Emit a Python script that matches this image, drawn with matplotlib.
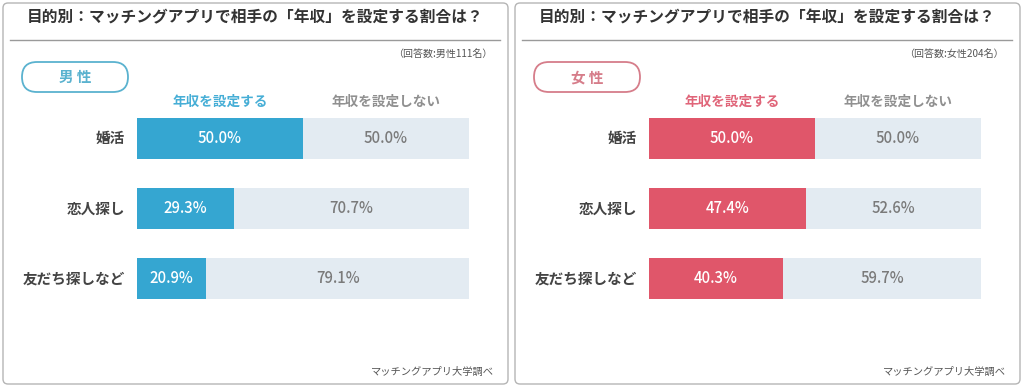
import matplotlib.pyplot as plt
from matplotlib.patches import FancyBboxPatch

plt.rcParams['font.family'] = ['Noto Sans CJK JP', 'DejaVu Sans']

# データ
titulo = "目的別：マッチングアプリで相手の「年収」を設定する割合は？"
categorias = ["婚活", "恋人探し", "友だち探しなど"]
encabezados = ["年収を設定する", "年収を設定しない"]
fuente = "マッチングアプリ大学調べ"

grupos = ["男 性", "女 性"]
notas = ["（回答数:男性111名）", "（回答数:女性204名）"]
si_hombres = [50.0, 29.3, 20.9]
no_hombres = [50.0, 70.7, 79.1]
si_mujeres = [50.0, 47.4, 40.3]
no_mujeres = [50.0, 52.6, 59.7]

colores = ["#35a6d1", "#e0566a"]
colores_pill = ["#5ab2cf", "#d67d8a"]
colores_enc = ["#46aed6", "#e06579"]
gris_barra = "#e3ebf2"

W, H = 1024, 387
fig = plt.figure(figsize=(W / 100, H / 100), dpi=100)
fig.patch.set_facecolor("white")

# capa de fondo en pixeles para marcos y textos
fondo = fig.add_axes([0, 0, 1, 1], zorder=0)
fondo.set_xlim(0, W)
fondo.set_ylim(H, 0)
fondo.axis("off")

paneles = [
    (0, si_hombres, no_hombres),
    (1, si_mujeres, no_mujeres),
]

for k, si, no in paneles:
    off = 512 * k
    # marco del panel
    fondo.add_patch(FancyBboxPatch((off + 3, 3), 505, 381,
                                   boxstyle="round,pad=0,rounding_size=5",
                                   facecolor="white", edgecolor="#b5b5b5",
                                   linewidth=1.0))
    fondo.text(off + 255, 17, titulo, ha="center", va="center",
               fontsize=11.3, fontweight="bold", color="#333333")
    fondo.plot([off + 10, off + 500], [40, 40], color="#9a9a9a", lw=1.0)
    fondo.text(off + 492, 54, notas[k], ha="right", va="center",
               fontsize=7.2, color="#555555")
    fondo.add_patch(FancyBboxPatch((off + 22, 62), 106, 30,
                                   boxstyle="round,pad=0,rounding_size=15",
                                   facecolor="white",
                                   edgecolor=colores_pill[k], linewidth=1.3))
    fondo.text(off + 75, 77, grupos[k], ha="center", va="center",
               fontsize=10.5, fontweight="bold", color=colores_pill[k])
    fondo.text(off + 220, 102, encabezados[0], ha="center", va="center",
               fontsize=9.8, fontweight="bold", color=colores_enc[k])
    fondo.text(off + 386, 102, encabezados[1], ha="center", va="center",
               fontsize=9.8, fontweight="bold", color="#909090")
    fondo.text(off + 494, 372, fuente, ha="right", va="center",
               fontsize=7.4, color="#555555")

    # barras
    ax = fig.add_axes([(off + 137) / W, 1 - 314 / H, 332 / W, 211 / H],
                      zorder=1)
    ax.patch.set_alpha(0)
    ypos = range(len(categorias))
    ax.barh(ypos, si, height=0.58, color=colores[k], linewidth=0)
    ax.barh(ypos, no, left=si, height=0.58, color=gris_barra, linewidth=0)
    for i in ypos:
        ax.text(si[i] / 2, i, f"{si[i]:.1f}%", ha="center", va="center",
                fontsize=10.7, color="white", fontweight="medium")
        ax.text(si[i] + no[i] / 2, i, f"{no[i]:.1f}%", ha="center",
                va="center", fontsize=10.7, color="#7a7a7a",
                fontweight="medium")
        ax.text(-3.6, i, categorias[i], ha="right", va="center",
                fontsize=10.5, fontweight="bold", color="#444444")
    ax.set_xlim(0, 100)
    ax.set_ylim(2.5, -0.5)
    ax.axis("off")

fig.savefig("out.png", dpi=100, facecolor="white")
